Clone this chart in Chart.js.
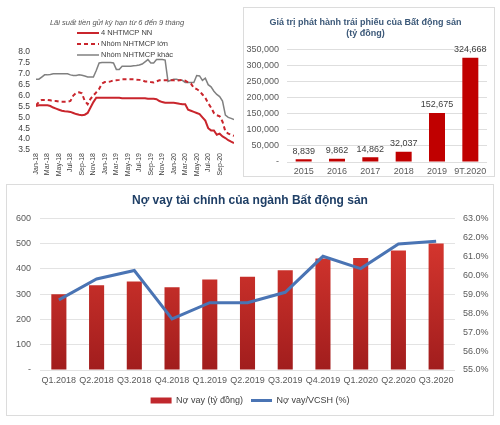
<!DOCTYPE html>
<html><head><meta charset="utf-8">
<script src="https://cdn.jsdelivr.net/npm/chart.js@4/dist/chart.umd.min.js"></script>
<style>
html,body{margin:0;padding:0;background:#fff;width:500px;height:425px;overflow:hidden;}
.box{position:absolute;box-sizing:border-box;background:#fff;}
#w1{left:0;top:0;width:240px;height:180px;}
#w2{left:243px;top:7px;width:252px;height:170px;border:1px solid #dcdcdc;}
#w3{left:6px;top:184px;width:488px;height:232px;border:1px solid #dcdcdc;}
canvas{display:block;}
</style></head><body>
<div class="box" id="w1"><canvas id="c1" width="240" height="180" style="width:240px;height:180px"></canvas></div>
<div class="box" id="w2"><canvas id="c2" width="250" height="168" style="width:250px;height:168px"></canvas></div>
<div class="box" id="w3"><canvas id="c3" width="486" height="230" style="width:486px;height:230px"></canvas></div>
<script>
// ---------- Chart 1: deposit rates (half-month steps from Jan-18) ----------
const rateMonthLabels = ['Jan-18','Mar-18','May-18','Jul-18','Sep-18','Nov-18','Jan-19','Mar-19','May-19','Jul-19','Sep-19','Nov-19','Jan-20','Mar-20','May-20','Jul-20','Sep-20'];
const rateStateOwned = [5.52,5.55,5.55,5.55,5.55,5.52,5.45,5.4,5.35,5.3,5.28,5.27,5.25,5.2,5.15,5.12,5.1,5.12,5.2,5.45,
  5.7,5.9,5.9,5.9,5.9,5.9,5.9,5.9,5.9,5.9,5.88,5.88,5.88,5.88,5.88,5.88,5.88,5.88,5.88,5.85,
  5.85,5.85,5.83,5.75,5.7,5.67,5.67,5.67,5.67,5.65,5.62,5.6,5.6,5.35,5.3,5.25,5.2,5.15,5.0,4.85,
  4.5,4.4,4.4,4.2,4.25,4.12,4.05,3.95,3.88,3.82];
const rateLarge = [5.55,5.7,5.8,5.8,5.8,5.78,5.75,5.75,5.72,5.72,5.72,5.72,5.75,6.0,6.12,6.15,6.1,5.75,5.6,5.85,
  6.0,6.15,6.3,6.55,6.62,6.63,6.65,6.7,6.7,6.72,6.75,6.75,6.75,6.75,6.75,6.73,6.72,6.7,6.65,6.65,
  6.62,6.6,6.65,6.7,6.7,6.7,6.7,6.7,6.7,6.68,6.7,6.72,6.68,6.6,6.55,6.35,6.3,6.2,6.05,5.9,
  5.65,5.45,5.2,5.1,5.05,4.8,4.35,4.25,4.2,4.15];
const rateOther = [6.75,6.75,6.85,6.95,6.95,6.97,7.0,7.0,7.0,7.0,7.0,7.0,6.95,6.92,6.92,6.95,6.93,6.9,6.85,6.85,
  6.85,7.15,7.5,7.52,7.52,7.52,7.52,7.5,7.2,7.2,7.35,7.35,7.35,7.35,7.37,7.38,7.4,7.45,7.55,7.65,
  7.5,7.5,7.65,7.65,7.65,7.63,6.65,6.7,6.75,6.75,6.7,6.7,6.6,6.6,6.6,6.6,6.92,6.9,6.7,6.8,
  6.5,6.4,6.2,6.05,5.95,5.75,5.1,5.0,4.95,4.9];
const rateSeriesNames = ['4 NHTMCP NN','Nhóm NHTMCP lớn','Nhóm NHTMCP khác'];

// ---------- Chart 2: real estate bond issuance ----------
const bondYears = ['2015','2016','2017','2018','2019','9T.2020'];
const bondValues = [8839,9862,14862,32037,152675,324668];

// ---------- Chart 3: real estate financial debt ----------
const quarters = ['Q1.2018','Q2.2018','Q3.2018','Q4.2018','Q1.2019','Q2.2019','Q3.2019','Q4.2019','Q1.2020','Q2.2020','Q3.2020'];
const debtValues = [300,335,350,328,358,369,395,441,443,473,501];
const debtEquityRatio = [58.7,59.8,60.25,57.7,58.55,58.55,59.1,61.0,60.35,61.65,61.8];

Chart.defaults.font.family = "'Liberation Sans', Arial, sans-serif";
Chart.defaults.animation = false;

const toXY = arr => arr.map((v,i)=>({x:i/2, y:v}));

const legend1 = {
  id:'legend1',
  afterDraw(chart){
    const ctx = chart.ctx; ctx.save();
    const rows = [33,44,55];
    chart.data.datasets.forEach((ds,i)=>{
      const y = rows[i];
      ctx.strokeStyle = ds.borderColor; ctx.lineWidth = ds.borderWidth;
      ctx.setLineDash(ds.borderDash || []);
      ctx.beginPath(); ctx.moveTo(77,y); ctx.lineTo(99,y); ctx.stroke();
      ctx.setLineDash([]);
      ctx.fillStyle = '#404040'; ctx.font = "7.5px 'Liberation Sans', Arial, sans-serif";
      ctx.textBaseline = 'middle'; ctx.textAlign = 'left';
      ctx.fillText(ds.label, 101, y);
    });
    ctx.restore();
  }
};

new Chart(document.getElementById('c1'), {
  type:'line',
  data:{datasets:[
    {label:rateSeriesNames[0], data:toXY(rateStateOwned), borderColor:'#c9252c', borderWidth:2, pointRadius:0, tension:0},
    {label:rateSeriesNames[1], data:toXY(rateLarge), borderColor:'#c9252c', borderWidth:2, borderDash:[4,3], pointRadius:0, tension:0},
    {label:rateSeriesNames[2], data:toXY(rateOther), borderColor:'#808080', borderWidth:1.5, pointRadius:0, tension:0}
  ]},
  options:{
    responsive:false,
    layout:{padding:{left:0,right:6,top:0,bottom:0}},
    plugins:{
      legend:{display:false}, tooltip:{enabled:false},
      title:{display:true, text:'Lãi suất tiền gửi kỳ hạn từ 6 đến 9 tháng', color:'#555',
        font:{size:7.5, style:'italic', weight:'normal'}, padding:{top:18,bottom:25}}
    },
    scales:{
      x:{type:'linear', min:0, max:34.5, afterFit(s){s.height=30; s.paddingRight=0; s.paddingLeft=0;},
        grid:{display:false, drawTicks:false}, border:{display:false},
        ticks:{stepSize:2, maxTicksLimit:40, autoSkip:false, maxRotation:90, minRotation:90, padding:3,
          font:{size:7}, color:'#404040',
          callback:(v)=> (Number.isInteger(v/2) && rateMonthLabels[v/2]) ? rateMonthLabels[v/2] : ''}},
      y:{min:3.5, max:8, afterFit(s){s.width=36;},
        grid:{display:false, drawTicks:false}, border:{display:false},
        ticks:{stepSize:0.5, autoSkip:false, padding:6, font:{size:8.5}, color:'#404040', callback:v=>v.toFixed(1)}}
    }
  },
  plugins:[legend1]
});

const barLabels = {
  id:'barLabels',
  afterDatasetsDraw(chart){
    const ctx = chart.ctx; ctx.save();
    ctx.font = "9px 'Liberation Sans', Arial, sans-serif";
    ctx.fillStyle = '#404040'; ctx.textAlign='center'; ctx.textBaseline='middle';
    const meta = chart.getDatasetMeta(0);
    meta.data.forEach((bar,i)=>{
      ctx.fillText(chart.data.datasets[0].data[i].toLocaleString('en-US'), bar.x, bar.y - 8);
    });
    ctx.restore();
  }
};

new Chart(document.getElementById('c2'), {
  type:'bar',
  data:{labels:bondYears, datasets:[{label:'Giá trị phát hành trái phiếu', data:bondValues, backgroundColor:'#c00000', barPercentage:0.48, categoryPercentage:1}]},
  options:{
    responsive:false,
    layout:{padding:{right:7,left:0,top:0,bottom:0}},
    plugins:{
      legend:{display:false}, tooltip:{enabled:false},
      title:{display:true, text:['Giá trị phát hành trái phiếu của Bất động sản','(tỷ đồng)'], color:'#3b5878',
        font:{size:9, weight:'bold', lineHeight:1.2}, padding:{top:9,bottom:11}}
    },
    scales:{
      x:{grid:{display:false, drawTicks:false}, border:{display:false}, afterFit(s){s.height=14;},
        ticks:{padding:4, autoSkip:false, maxRotation:0, minRotation:0, font:{size:9}, color:'#595959'}},
      y:{min:0, max:350000, afterFit(s){s.width=43;},
        grid:{color:'#dedede', drawTicks:false}, border:{display:false},
        ticks:{stepSize:50000, autoSkip:false, padding:8, font:{size:9}, color:'#595959', callback:v=> v===0 ? '-' : v.toLocaleString('en-US')}}
    }
  },
  plugins:[barLabels]
});

const barGradient = (c)=>{
  const chart = c.chart; const a = chart.chartArea;
  if (!a) return '#c62828';
  const g = chart.ctx.createLinearGradient(0, a.top, 0, a.bottom);
  g.addColorStop(0, '#de3a31'); g.addColorStop(1, '#a11d1d');
  return g;
};

new Chart(document.getElementById('c3'), {
  type:'bar',
  data:{labels:quarters, datasets:[
    {type:'bar', label:'Nợ vay (tỷ đồng)', data:debtValues, yAxisID:'y', backgroundColor:barGradient, barPercentage:0.4, categoryPercentage:1, order:2},
    {type:'line', label:'Nợ vay/VCSH (%)', data:debtEquityRatio, yAxisID:'y1', borderColor:'#4a74b4', backgroundColor:'#4a74b4', borderWidth:3, pointRadius:0, tension:0, order:1}
  ]},
  options:{
    responsive:false,
    layout:{padding:{left:0,right:0,top:0,bottom:0}},
    plugins:{
      tooltip:{enabled:false},
      title:{display:true, text:'Nợ vay tài chính của ngành Bất động sản', color:'#1f3f66',
        font:{size:12, weight:'bold'}, padding:{top:8,bottom:11}},
      legend:{position:'bottom', labels:{usePointStyle:true, pointStyleWidth:21, boxHeight:6, padding:8,
        font:{size:9}, color:'#404040',
        generateLabels(chart){
          const items = Chart.defaults.plugins.legend.labels.generateLabels(chart);
          items.sort((a,b)=>a.datasetIndex-b.datasetIndex);
          items.forEach(it=>{
            if (it.datasetIndex===0){ it.pointStyle='rect'; it.fillStyle='#c0282d'; it.strokeStyle='#c0282d'; it.lineWidth=0; }
            else { it.pointStyle='line'; it.strokeStyle='#4a74b4'; it.lineWidth=3; }
          });
          return items;
        }}}
    },
    scales:{
      x:{grid:{display:false, drawTicks:false}, border:{display:false}, afterFit(s){s.height=18;},
        ticks:{padding:5, autoSkip:false, maxRotation:0, minRotation:0, font:{size:9}, color:'#595959'}},
      y:{position:'left', min:0, max:600, afterFit(s){s.width=33;},
        grid:{color:'#e3e3e3', drawTicks:false}, border:{display:false},
        ticks:{stepSize:100, autoSkip:false, padding:9, font:{size:9}, color:'#595959', callback:v=> v===0 ? '-' : v}},
      y1:{position:'right', min:55, max:63, afterFit(s){s.width=38;},
        grid:{display:false, drawTicks:false}, border:{display:false},
        ticks:{stepSize:1, autoSkip:false, padding:8, font:{size:9}, color:'#595959', callback:v=> v.toFixed(1)+'%'}}
    }
  }
});
</script>
</body></html>
